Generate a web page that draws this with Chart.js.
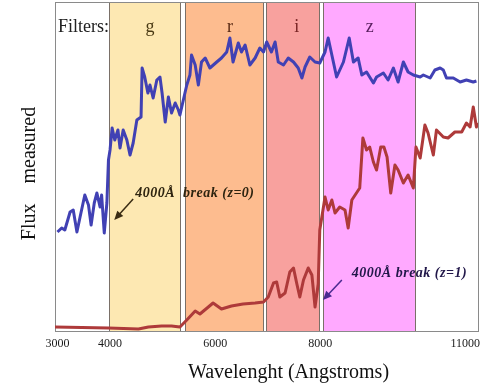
<!DOCTYPE html>
<html>
<head>
<meta charset="utf-8">
<script src="https://cdn.jsdelivr.net/npm/chart.js@4"></script>
<style>
  html, body { margin: 0; padding: 0; background: #fff; }
  #wrap { width: 481px; height: 387px; }
</style>
</head>
<body>
<div id="wrap"><canvas id="spec"></canvas></div>
<script>
// galaxy spectrum at z=0 (blue) and redshifted to z=1 (red), flux in arbitrary units
let wlBlue = [3000,3080,3140,3240,3300,3370,3430,3520,3590,3640,3700,3750,3810,3840,3890,3940,3970,4000,4040,4090,
  4150,4190,4250,4320,4380,4440,4510,4590,4610,4660,4720,4760,4820,4890,4950,4990,5050,5110,5170,5240,
  5300,5330,5390,5460,5520,5550,5620,5680,5740,5810,5900,6030,6120,6220,6280,6340,6440,6500,6570,6660,
  6760,6850,6920,6980,7070,7140,7200,7300,7390,7490,7580,7650,7710,7800,7900,7990,8090,8150,8310,8440,
  8550,8630,8720,8790,8880,9010,9070,9200,9290,9390,9480,9580,9670,9770,9900,9960,10090,10180,10280,10340,
  10400,10530,10660,10780,10910,10970];
let fluxBlue = [0.97,1.01,0.99,1.17,1.19,0.97,1.12,1.34,1.24,1.04,1.26,1.36,1.22,1.34,0.96,1.26,1.69,1.79,2.01,1.89,
  1.99,1.81,1.99,1.89,1.74,1.86,2.09,2.12,2.61,2.52,2.36,2.44,2.31,2.49,2.52,2.36,2.07,2.32,2.16,2.26,
  2.19,2.14,2.28,2.44,2.54,2.74,2.64,2.44,2.67,2.71,2.61,2.67,2.71,2.77,2.91,2.67,2.86,2.77,2.84,2.64,
  2.71,2.81,2.77,2.87,2.77,2.87,2.67,2.64,2.71,2.67,2.61,2.51,2.62,2.72,2.67,2.66,2.77,2.91,2.52,2.67,
  2.91,2.67,2.71,2.54,2.57,2.46,2.52,2.56,2.49,2.61,2.47,2.67,2.57,2.54,2.52,2.54,2.51,2.59,2.61,2.59,
  2.51,2.51,2.47,2.49,2.47,2.48];

let wlRed = [2950,3970,4540,4730,4980,5170,5330,5460,5620,5710,5870,5960,6120,6310,6530,6760,6920,7010,7110,7170,
  7230,7330,7420,7490,7550,7610,7680,7770,7840,7900,7960,7990,8090,8150,8220,8280,8370,8470,8530,8600,
  8750,8810,8880,8940,9010,9070,9150,9210,9270,9340,9420,9480,9580,9670,9770,9820,9900,9990,10050,10150,
  10210,10340,10430,10560,10690,10780,10850,10910,10970,11000];
let fluxRed = [0.02,0.01,0.00,0.02,0.03,0.03,0.02,0.09,0.18,0.15,0.22,0.26,0.20,0.23,0.25,0.26,0.27,0.32,0.46,0.47,
  0.32,0.36,0.57,0.61,0.46,0.32,0.49,0.61,0.54,0.22,0.45,0.99,1.32,1.19,1.29,1.16,1.22,1.19,1.01,1.29,
  1.41,1.91,1.79,1.82,1.67,1.59,1.82,1.82,1.72,1.36,1.64,1.59,1.46,1.54,1.41,1.82,1.71,2.04,1.96,1.74,
  1.99,1.92,1.91,1.97,1.97,2.06,2.02,2.22,2.02,2.06];

let xTicks = [3000, 4000, 6000, 8000, 11000];

// filter passbands (Angstroms)
let filterNames = ["g", "r", "i", "z"];
let filterFrom = [3980, 5430, 6970, 8050];
let filterTo = [5330, 6910, 7970, 9800];
let filterLabelAt = [4760, 6280, 7550, 8940];
let filterColors = ["#fde8b2", "#fdbc8f", "#f8a19e", "#ffa9ff"];
let filterTextColors = ["#4a3a14", "#5a2a14", "#7a2626", "#5a2060"];

// annotation: text start, arrow tail, arrow head  (wavelength, flux)
let notes = [
  {text: "4000Å  break (z=0)", at: [4480, 1.36], tail: [4440, 1.30], head: [4080, 1.09], color: "#2e2410", arrow: "#3a2c14"},
  {text: "4000Å break (z=1)", at: [8600, 0.56], tail: [8410, 0.49], head: [8050, 0.29], color: "#22184a", arrow: "#4a2a90"}
];

const serif = "'Liberation Serif', 'DejaVu Serif', serif";

function pts(xs, ys){
    let out = [];
    for(let i = 0; i < xs.length; i++) out.push({x: xs[i], y: ys[i]});
    return out;
}

const decor = {
    id: "decor",
    beforeDatasetsDraw(chart){
        const ctx = chart.ctx, a = chart.chartArea, xs = chart.scales.x;
        ctx.save();
        for(let i = 0; i < filterNames.length; i++){
            let x0 = Math.round(xs.getPixelForValue(filterFrom[i])) + 0.5;
            let x1 = Math.round(xs.getPixelForValue(filterTo[i])) + 0.5;
            ctx.fillStyle = filterColors[i];
            ctx.fillRect(x0, a.top, x1 - x0, a.bottom - a.top);
            ctx.strokeStyle = "#7a7068";
            ctx.lineWidth = 1;
            ctx.beginPath();
            ctx.moveTo(x0, a.top); ctx.lineTo(x0, a.bottom);
            ctx.moveTo(x1, a.top); ctx.lineTo(x1, a.bottom);
            ctx.stroke();
        }
        // frame
        ctx.strokeStyle = "#8a8a8a";
        ctx.strokeRect(Math.round(a.left) + 0.5, Math.round(a.top) + 0.5, Math.round(a.right - a.left), Math.round(a.bottom - a.top));
        ctx.restore();
    },
    afterDatasetsDraw(chart){
        const ctx = chart.ctx, a = chart.chartArea, xs = chart.scales.x, ys = chart.scales.y;
        ctx.save();
        // filter names
        ctx.font = "18px " + serif;
        ctx.textBaseline = "middle";
        ctx.fillStyle = "#222";
        ctx.textAlign = "left";
        ctx.fillText("Filters:", xs.getPixelForValue(3010), ys.getPixelForValue(3.02));
        ctx.textAlign = "center";
        for(let i = 0; i < filterNames.length; i++){
            ctx.fillStyle = filterTextColors[i];
            ctx.fillText(filterNames[i], xs.getPixelForValue(filterLabelAt[i]), ys.getPixelForValue(3.02));
        }
        // notes and arrows
        for(const n of notes){
            ctx.font = "italic bold 14px " + serif;
            ctx.letterSpacing = "0.5px";
            ctx.textAlign = "left";
            ctx.fillStyle = n.color;
            ctx.fillText(n.text, xs.getPixelForValue(n.at[0]), ys.getPixelForValue(n.at[1]));
            ctx.letterSpacing = "0px";
            let tx = xs.getPixelForValue(n.tail[0]), ty = ys.getPixelForValue(n.tail[1]);
            let hx = xs.getPixelForValue(n.head[0]), hy = ys.getPixelForValue(n.head[1]);
            let ang = Math.atan2(hy - ty, hx - tx);
            ctx.strokeStyle = n.arrow;
            ctx.fillStyle = n.arrow;
            ctx.lineWidth = 1.5;
            ctx.beginPath();
            ctx.moveTo(tx, ty);
            ctx.lineTo(hx - 6 * Math.cos(ang), hy - 6 * Math.sin(ang));
            ctx.stroke();
            ctx.beginPath();
            ctx.moveTo(hx, hy);
            ctx.lineTo(hx - 9 * Math.cos(ang) + 4 * Math.sin(ang), hy - 9 * Math.sin(ang) - 4 * Math.cos(ang));
            ctx.lineTo(hx - 9 * Math.cos(ang) - 4 * Math.sin(ang), hy - 9 * Math.sin(ang) + 4 * Math.cos(ang));
            ctx.closePath();
            ctx.fill();
        }
        // x tick labels, kept inside the canvas at the right edge
        ctx.font = "12px " + serif;
        ctx.fillStyle = "#1a1a1a";
        ctx.textAlign = "center";
        for(const t of xTicks){
            let w = ctx.measureText(String(t)).width;
            let x = xs.getPixelForValue(t);
            if(x + w / 2 > chart.width - 1) x = chart.width - 1 - w / 2;
            ctx.fillText(String(t), x, a.bottom + 13);
        }
        // axis titles
        ctx.font = "20px " + serif;
        ctx.fillStyle = "#111";
        ctx.fillText("Wavelenght (Angstroms)", (a.left + a.right) / 2 + 22, a.bottom + 42);
        ctx.translate(a.left - 25, (a.top + a.bottom) / 2 + 7);
        ctx.rotate(-Math.PI / 2);
        ctx.fillText("Flux    measured", 0, 0);
        ctx.restore();
    }
};

let ctx = document.getElementById("spec");
let spec = new Chart(ctx, {
    type: "line",
    data: {
        datasets: [{
            label: "z=0",
            data: pts(wlBlue, fluxBlue),
            borderColor: "#4141b4",
            borderWidth: 3,
            pointRadius: 0,
            tension: 0,
            borderJoinStyle: "round"
        },{
            label: "z=1",
            data: pts(wlRed, fluxRed),
            borderColor: "#ae3a3a",
            borderWidth: 3,
            pointRadius: 0,
            tension: 0,
            borderJoinStyle: "round"
        }]
    },
    options: {
        responsive: true,
        maintainAspectRatio: false,
        animation: false,
        layout: { padding: { left: 55, right: 3, top: 2, bottom: 56 } },
        plugins: {
            legend: { display: false },
            tooltip: { enabled: false }
        },
        scales: {
            x: { type: "linear", min: 2953, max: 11000, display: false },
            y: { min: -0.02, max: 3.27, display: false }
        }
    },
    plugins: [decor]
});
</script>
</body>
</html>
